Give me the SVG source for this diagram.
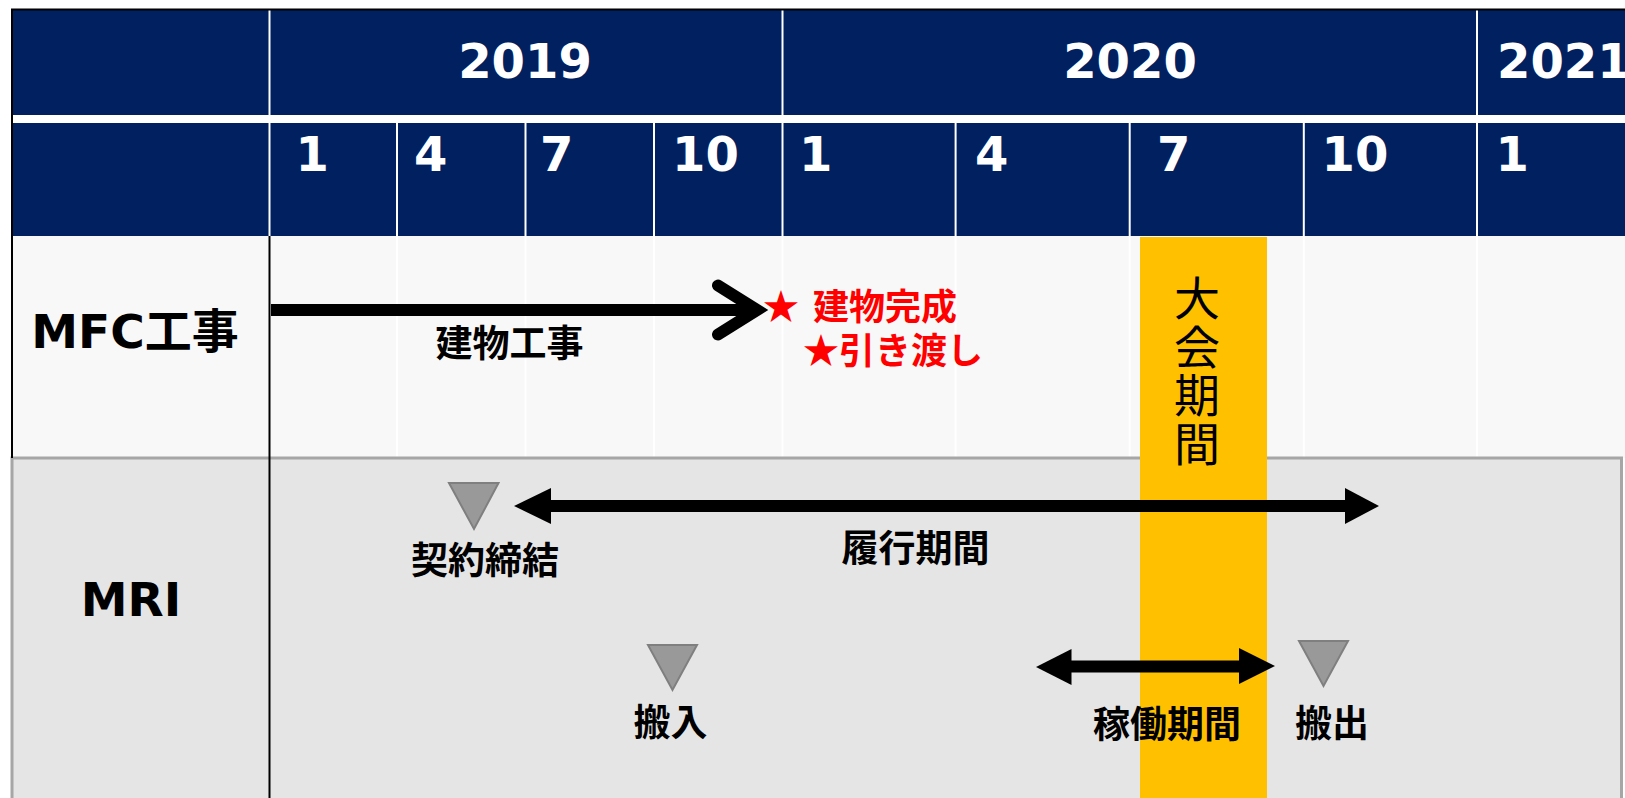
<svg xmlns="http://www.w3.org/2000/svg" width="1625" height="798" viewBox="0 0 1625 798">
<style>
.hd{font-family:"DejaVu Sans","Noto Sans CJK JP",sans-serif;font-weight:bold;font-size:48px;fill:#ffffff}
.lbl{font-family:"DejaVu Sans","Noto Sans CJK JP",sans-serif;font-weight:bold;font-size:47px;fill:#000000;text-anchor:middle}
.jp{font-family:"Noto Sans CJK JP",sans-serif;font-weight:bold;font-size:37px;fill:#000000;text-anchor:middle}
.red{font-family:"Noto Sans CJK JP",sans-serif;font-weight:bold;font-size:36px;fill:#ff0000}
.vt{font-family:"Noto Sans CJK JP",sans-serif;font-weight:normal;font-size:46px;fill:#000000;writing-mode:vertical-rl;letter-spacing:2.5px}
.wl{stroke:#ffffff;stroke-width:2}
.tri{fill:#999999;stroke:#7f7f7f;stroke-width:2}
.bar{stroke:#000000;stroke-width:12}
.head{fill:#000000}
</style>
<g id="background">
  <rect x="12" y="10" width="1613" height="226" fill="#002060"/>
  <rect x="12" y="115" width="1613" height="8" fill="#ffffff"/>
  <line class="wl" x1="269.5" y1="10" x2="269.5" y2="236"/>
  <line class="wl" x1="782.5" y1="10" x2="782.5" y2="236"/>
  <line class="wl" x1="1477" y1="10" x2="1477" y2="236"/>
  <line class="wl" x1="397" y1="123" x2="397" y2="236"/>
  <line class="wl" x1="525.5" y1="123" x2="525.5" y2="236"/>
  <line class="wl" x1="654" y1="123" x2="654" y2="236"/>
  <line class="wl" x1="955.6" y1="123" x2="955.6" y2="236"/>
  <line class="wl" x1="1129.7" y1="123" x2="1129.7" y2="236"/>
  <line class="wl" x1="1303.8" y1="123" x2="1303.8" y2="236"/>
  <line x1="11" y1="9.5" x2="1625" y2="9.5" stroke="#000000" stroke-width="2"/>
  <rect x="12" y="236" width="1613" height="222" fill="#f8f8f8"/>
  <line class="wl" x1="397" y1="236" x2="397" y2="458"/>
  <line class="wl" x1="525.5" y1="236" x2="525.5" y2="458"/>
  <line class="wl" x1="654" y1="236" x2="654" y2="458"/>
  <line class="wl" x1="782.5" y1="236" x2="782.5" y2="458"/>
  <line class="wl" x1="955.6" y1="236" x2="955.6" y2="458"/>
  <line class="wl" x1="1129.7" y1="236" x2="1129.7" y2="458"/>
  <line class="wl" x1="1303.8" y1="236" x2="1303.8" y2="458"/>
  <line class="wl" x1="1477" y1="236" x2="1477" y2="458"/>
  <rect x="12" y="458" width="1609.5" height="345" fill="#e5e5e5" stroke="#a6a6a6" stroke-width="3"/>
  <line x1="12" y1="9" x2="12" y2="458" stroke="#000000" stroke-width="2"/>
  <line x1="269.5" y1="236" x2="269.5" y2="798" stroke="#000000" stroke-width="2"/>
</g>
<g id="header-text">
  <text class="hd" x="525" y="78" text-anchor="middle">2019</text>
  <text class="hd" x="1130" y="78" text-anchor="middle">2020</text>
  <text class="hd" x="1497" y="78">2021</text>
  <text class="hd" x="295.5" y="171">1</text>
  <text class="hd" x="414" y="171">4</text>
  <text class="hd" x="540" y="171">7</text>
  <text class="hd" x="672" y="171">10</text>
  <text class="hd" x="799" y="171">1</text>
  <text class="hd" x="975" y="171">4</text>
  <text class="hd" x="1157" y="171">7</text>
  <text class="hd" x="1321.5" y="171">10</text>
  <text class="hd" x="1495.5" y="171">1</text>
</g>
<g id="row-labels">
  <text class="lbl" x="135" y="348">MFC工事</text>
  <text class="lbl" x="131" y="616">MRI</text>
</g>
<g id="event-period">
  <rect x="1140" y="237" width="127" height="561" fill="#ffc000"/>
  <text class="vt" x="1197" y="275">大会期間</text>
</g>
<g id="connectors">
  <line class="bar" x1="271" y1="310" x2="755" y2="310"/>
  <polyline points="718,285.5 757,310 718,334.5" fill="none" stroke="#000000" stroke-width="12" stroke-linecap="round" stroke-linejoin="miter"/>
  <line class="bar" x1="549" y1="506" x2="1347" y2="506"/>
  <polygon class="head" points="514,506 551,488 551,524"/>
  <polygon class="head" points="1379,506 1345,488 1345,524"/>
  <line class="bar" x1="1069" y1="666.5" x2="1241" y2="666.5"/>
  <polygon class="head" points="1036,667 1071.5,649 1071.5,685"/>
  <polygon class="head" points="1275,666 1239,648 1239,684"/>
</g>
<g id="node-build">
  <text class="jp" x="509.6" y="357">建物工事</text>
</g>
<g id="node-complete">
  <text class="red" x="763" y="320">★<tspan x="813">建物完成</tspan><tspan x="803" y="364">★引き渡し</tspan></text>
</g>
<g id="node-contract">
  <polygon class="tri" points="449,483 498.5,483 474,529"/>
  <text class="jp" x="485" y="574">契約締結</text>
</g>
<g id="node-term">
  <text class="jp" x="915.5" y="562">履行期間</text>
</g>
<g id="node-carry-in">
  <polygon class="tri" points="648,645 697,645 672.5,690"/>
  <text class="jp" x="670.5" y="736">搬入</text>
</g>
<g id="node-operation">
  <text class="jp" x="1167" y="738">稼働期間</text>
</g>
<g id="node-carry-out">
  <polygon class="tri" points="1299,641 1348,641 1323.5,686"/>
  <text class="jp" x="1332" y="737">搬出</text>
</g>
</svg>
